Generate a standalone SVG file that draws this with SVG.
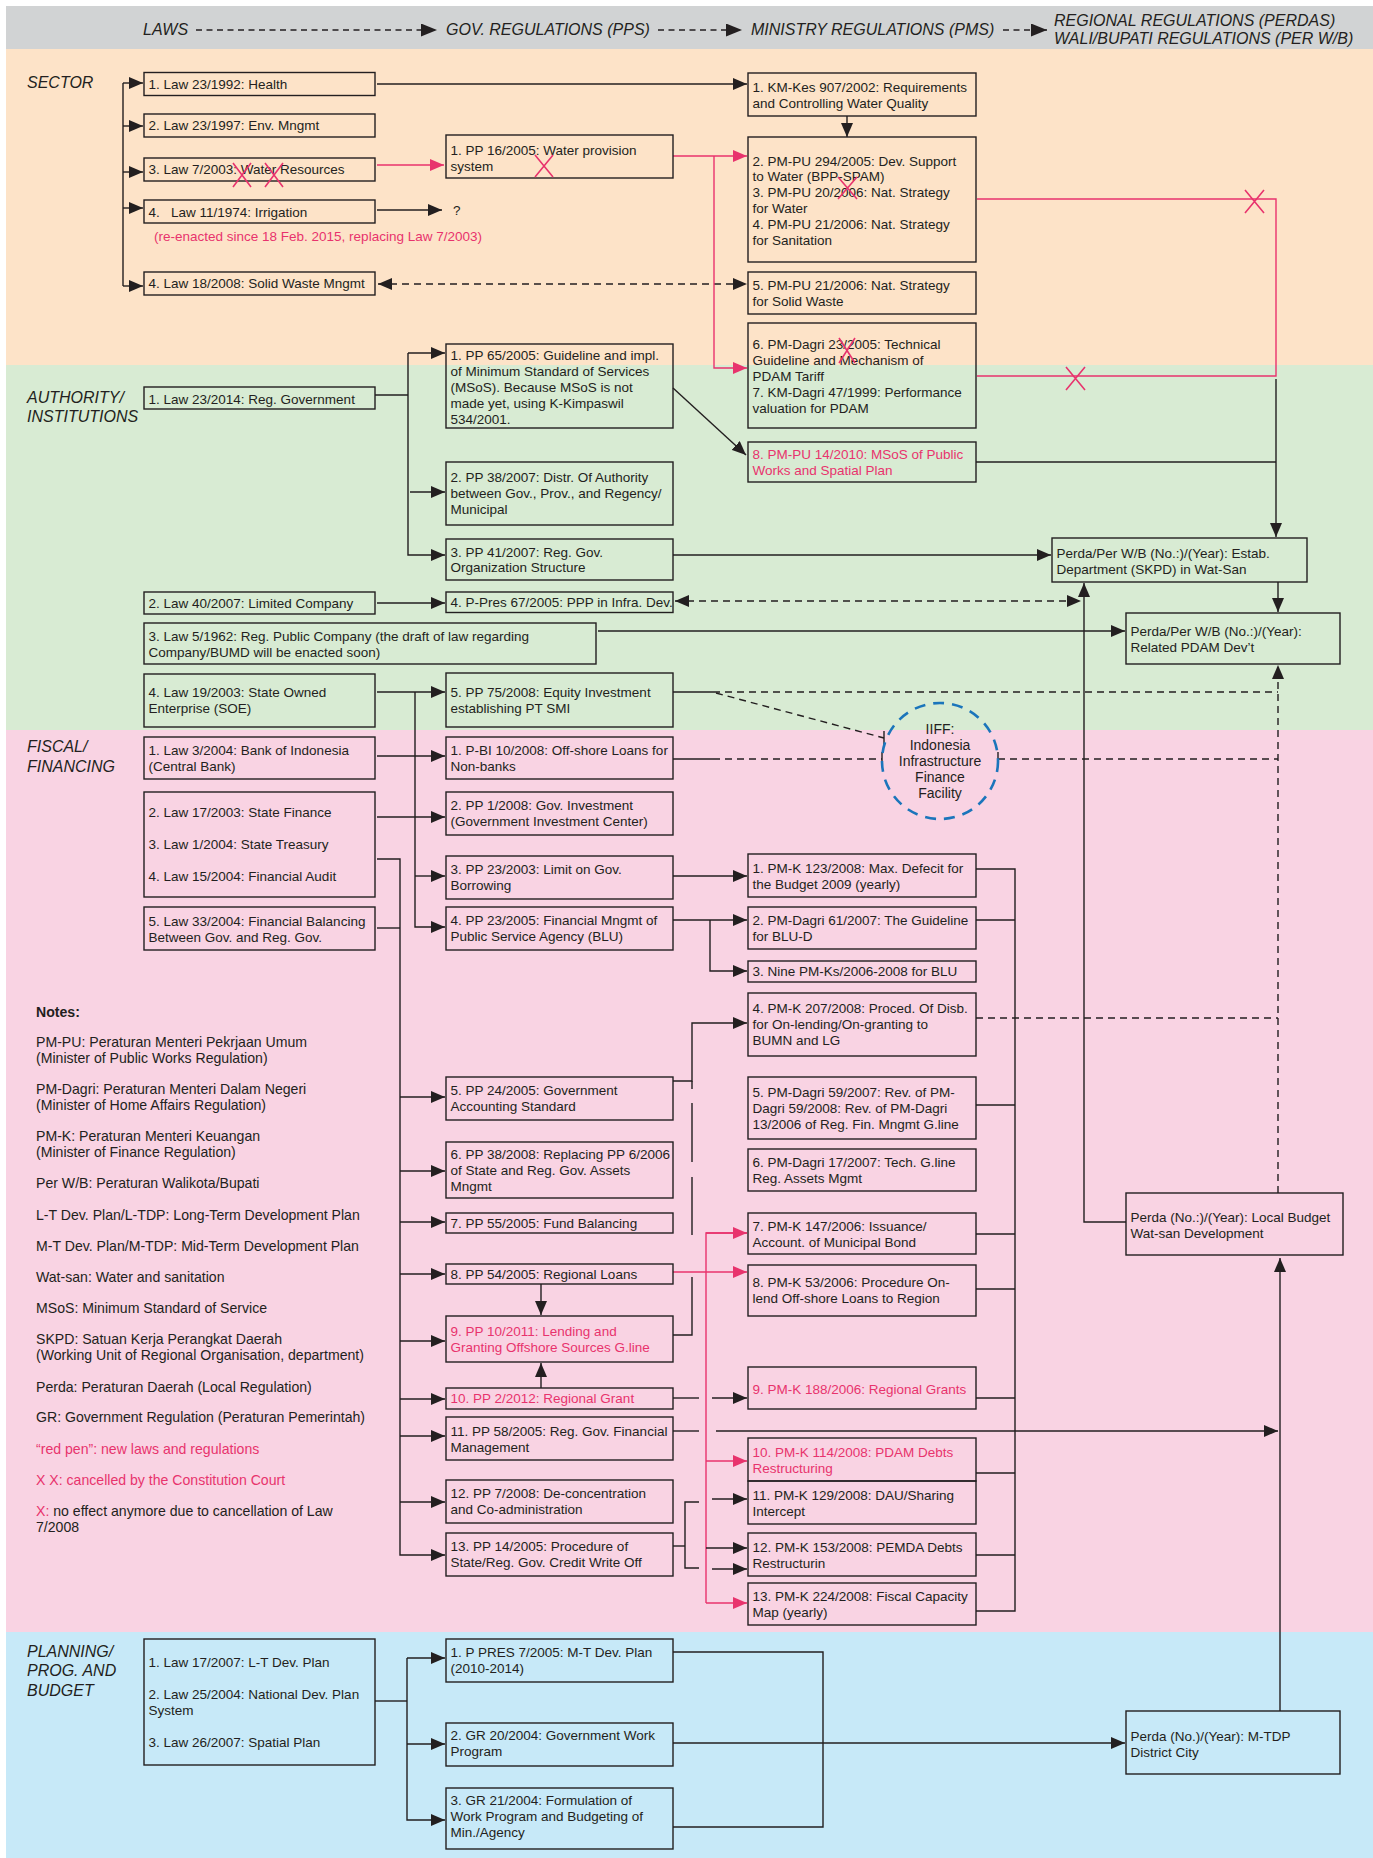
<svg xmlns="http://www.w3.org/2000/svg" width="1373" height="1858" viewBox="0 0 1373 1858">
<defs>
<style>
text{font-family:"Liberation Sans",Arial,sans-serif;font-size:13.5px;fill:#231f20}
.hd{font-size:16px;font-style:italic}
.sec{font-size:16px;font-style:italic}
.red{fill:#e8336d}
.bold{font-weight:bold}
.iiff{font-size:14px;text-anchor:middle}
#notes text{font-size:14.1px}
rect.n{fill:none;stroke:#231f20;stroke-width:1.4}
#connectors path{fill:none;stroke:#231f20;stroke-width:1.4}
#connectors path.rd{stroke:#e8336d}
#connectors path.dsh{stroke-dasharray:7 5}
#connectors path.hdash{stroke-dasharray:6 4.5}
#cancel-marks path{fill:none;stroke:#e8336d;stroke-width:1.6}
</style>
<marker id="ah" viewBox="0 0 14 12" markerWidth="14" markerHeight="12" refX="14" refY="6" orient="auto-start-reverse" markerUnits="userSpaceOnUse"><path d="M0,0L14,6L0,12z" fill="#231f20"/></marker>
<marker id="ahr" viewBox="0 0 14 12" markerWidth="14" markerHeight="12" refX="14" refY="6" orient="auto-start-reverse" markerUnits="userSpaceOnUse"><path d="M0,0L14,6L0,12z" fill="#e8336d"/></marker>
<marker id="ahh" viewBox="0 0 16 13" markerWidth="16" markerHeight="13" refX="16" refY="6.5" orient="auto" markerUnits="userSpaceOnUse"><path d="M0,0L16,6.5L0,13z" fill="#231f20"/></marker>
</defs>

<!-- background bands -->
<g id="bands">
<rect x="6" y="6" width="1367" height="43" fill="#d1d3d4"/>
<rect x="6" y="49" width="1367" height="316" fill="#fde3c8"/>
<rect x="6" y="365" width="1367" height="365" fill="#d8ebd3"/>
<rect x="6" y="730" width="1367" height="902" fill="#f9d3e3"/>
<rect x="6" y="1632" width="1367" height="226" fill="#c7e9f8"/>
</g>

<!-- column headings -->
<g id="header">
<text class="hd" x="143" y="35">LAWS</text>
<text class="hd" x="446" y="35">GOV. REGULATIONS (PPS)</text>
<text class="hd" x="751" y="35">MINISTRY REGULATIONS (PMS)</text>
<text class="hd" x="1054" y="26">REGIONAL REGULATIONS (PERDAS)</text>
<text class="hd" x="1054" y="44">WALI/BUPATI REGULATIONS (PER W/B)</text>
</g>

<!-- section labels -->
<g id="sections">
<text class="sec" x="27" y="88">SECTOR</text>
<text class="sec" x="27" y="403">AUTHORITY/</text>
<text class="sec" x="27" y="422">INSTITUTIONS</text>
<text class="sec" x="27" y="752">FISCAL/</text>
<text class="sec" x="27" y="772">FINANCING</text>
<text class="sec" x="27" y="1657">PLANNING/</text>
<text class="sec" x="27" y="1676">PROG. AND</text>
<text class="sec" x="27" y="1696">BUDGET</text>
</g>

<!-- connectors -->
<g id="connectors">
<!-- heading flow -->
<path class="hdash" d="M196,30H437" marker-end="url(#ahh)"/>
<path class="hdash" d="M658,30H742" marker-end="url(#ahh)"/>
<path class="hdash" d="M1003,30H1047" marker-end="url(#ahh)"/>

<!-- sector -->
<path d="M123,83V286"/>
<path d="M123,83H143" marker-end="url(#ah)"/>
<path d="M123,126H143" marker-end="url(#ah)"/>
<path d="M123,172H143" marker-end="url(#ah)"/>
<path d="M123,208H143" marker-end="url(#ah)"/>
<path d="M123,286H143" marker-end="url(#ah)"/>
<path d="M377,84H747" marker-end="url(#ah)"/>
<path class="rd" d="M377,165H444" marker-end="url(#ahr)"/>
<path d="M377,210H442" marker-end="url(#ah)"/>
<path class="dsh" d="M378,284H747" marker-start="url(#ah)" marker-end="url(#ah)"/>
<path d="M847,116V137" marker-end="url(#ah)"/>
<path class="rd" d="M673,156H747" marker-end="url(#ahr)"/>
<path class="rd" d="M714,156V368H747" marker-end="url(#ahr)"/>
<path class="rd" d="M977,199H1276V376H977"/>

<!-- authority -->
<path d="M375,395H408"/>
<path d="M408,353V555H445" marker-end="url(#ah)"/>
<path d="M408,353H445" marker-end="url(#ah)"/>
<path d="M410,492H445" marker-end="url(#ah)"/>
<path d="M673,388L746,455" marker-end="url(#ah)"/>
<path d="M976,462H1276"/>
<path d="M1276,379V537" marker-end="url(#ah)"/>
<path d="M673,555H1051" marker-end="url(#ah)"/>
<path d="M377,603H445" marker-end="url(#ah)"/>
<path class="dsh" d="M675,601H1081" marker-start="url(#ah)" marker-end="url(#ah)"/>
<path d="M1278,582V612" marker-end="url(#ah)"/>
<path d="M598,631H1125" marker-end="url(#ah)"/>
<path class="dsh" d="M1278,1193V665" marker-end="url(#ah)"/>
<path d="M1126,1222H1084V583" marker-end="url(#ah)"/>

<!-- equity / infrastructure finance -->
<path d="M377,692H445" marker-end="url(#ah)"/>
<path d="M415,692V927H445" marker-end="url(#ah)"/>
<path d="M377,756H445" marker-end="url(#ah)"/>
<path d="M415,876H445" marker-end="url(#ah)"/>
<path d="M673,692H713"/>
<path class="dsh" d="M713,692H1278"/>
<path class="dsh" d="M716,693L884,738"/>
<path d="M884,731V745"/>
<path d="M673,759H713"/>
<path class="dsh" d="M713,759H882"/>
<path d="M882,752V766"/>
<path class="dsh" d="M998,759H1278"/>
<path d="M998,752V766"/>

<!-- fiscal laws to government regulations -->
<path d="M377,817H445" marker-end="url(#ah)"/>
<path d="M377,859H400V1555H445" marker-end="url(#ah)"/>
<path d="M377,928H400"/>
<path d="M400,1097H445" marker-end="url(#ah)"/>
<path d="M400,1171H445" marker-end="url(#ah)"/>
<path d="M400,1222H445" marker-end="url(#ah)"/>
<path d="M400,1274H445" marker-end="url(#ah)"/>
<path d="M400,1341H445" marker-end="url(#ah)"/>
<path d="M400,1399H445" marker-end="url(#ah)"/>
<path d="M400,1436H445" marker-end="url(#ah)"/>
<path d="M400,1502H445" marker-end="url(#ah)"/>

<!-- fiscal regulations to ministry regulations -->
<path d="M673,876H747" marker-end="url(#ah)"/>
<path d="M673,920H747" marker-end="url(#ah)"/>
<path d="M710,920V971H747" marker-end="url(#ah)"/>
<path d="M976,869H1015V1611H976"/>
<path d="M976,920H1015M976,1105H1015M976,1234H1015M976,1289H1015M976,1398H1015M976,1473H1015M976,1555H1015"/>
<path class="dsh" d="M976,1018H1278"/>
<path d="M673,1081H692V1023H747" marker-end="url(#ah)"/>
<path d="M692,1081V1089M692,1103V1162M692,1177V1235M692,1277V1335H673"/>
<path class="rd" d="M673,1272H747" marker-end="url(#ahr)"/>
<path class="rd" d="M747,1233H706V1603"/>
<path class="rd" d="M706,1233H747" marker-end="url(#ahr)"/>
<path class="rd" d="M706,1461H747" marker-end="url(#ahr)"/>
<path class="rd" d="M706,1603H747" marker-end="url(#ahr)"/>
<path d="M541,1284V1315" marker-end="url(#ah)"/>
<path d="M541,1388V1363" marker-end="url(#ah)"/>
<path d="M673,1398H699"/>
<path d="M712,1398H747" marker-end="url(#ah)"/>
<path d="M673,1431H699"/>
<path d="M716,1431H1278" marker-end="url(#ah)"/>
<path d="M673,1546H685"/>
<path d="M699,1502H685V1568H699"/>
<path d="M712,1499H747" marker-end="url(#ah)"/>
<path d="M706,1548H747" marker-end="url(#ah)"/>
<path d="M712,1569H747" marker-end="url(#ah)"/>
<path d="M1280,1711V1258" marker-end="url(#ah)"/>

<!-- planning -->
<path d="M375,1701H407"/>
<path d="M407,1658V1820H445" marker-end="url(#ah)"/>
<path d="M407,1658H445" marker-end="url(#ah)"/>
<path d="M407,1744H445" marker-end="url(#ah)"/>
<path d="M673,1652H823V1827H673"/>
<path d="M673,1743H1125" marker-end="url(#ah)"/>
</g>

<!-- SECTOR nodes -->
<g id="law-health"><rect class="n" x="144" y="72.5" width="231" height="23"/><text x="148.5" y="88.5">1. Law 23/1992: Health</text></g>
<g id="law-env"><rect class="n" x="144" y="114" width="231" height="23"/><text x="148.5" y="130">2. Law 23/1997: Env. Mngmt</text></g>
<g id="law-water"><rect class="n" x="144" y="158" width="231" height="23"/><text x="148.5" y="174">3. Law 7/2003: Water Resources</text></g>
<g id="law-irrigation"><rect class="n" x="144" y="200" width="231" height="23"/><text x="148.5" y="216.5">4.<tspan x="171">Law 11/1974: Irrigation</tspan></text>
<text class="red" x="154" y="240.5">(re-enacted since 18 Feb. 2015, replacing Law 7/2003)</text></g>
<g id="irrigation-unknown"><text x="453" y="214.5">?</text></g>
<g id="law-waste"><rect class="n" x="144" y="272" width="231" height="23"/><text x="148.5" y="288">4. Law 18/2008: Solid Waste Mngmt</text></g>
<g id="pp-16-2005"><rect class="n" x="446" y="135" width="227" height="43"/><text x="450.5" y="154.5">1. PP 16/2005: Water provision<tspan x="450.5" y="170.5">system</tspan></text></g>
<g id="km-kes-907"><rect class="n" x="748" y="73" width="228" height="43"/><text x="752.5" y="92">1. KM-Kes 907/2002: Requirements<tspan x="752.5" y="108">and Controlling Water Quality</tspan></text></g>
<g id="pm-pu-water"><rect class="n" x="748" y="137" width="228" height="125"/><text x="752.5" y="165.5">2. PM-PU 294/2005: Dev. Support<tspan x="752.5" y="181">to Water (BPP-SPAM)</tspan><tspan x="752.5" y="197">3. PM-PU 20/2006: Nat. Strategy</tspan><tspan x="752.5" y="213">for Water</tspan><tspan x="752.5" y="229">4. PM-PU 21/2006: Nat. Strategy</tspan><tspan x="752.5" y="245">for Sanitation</tspan></text></g>
<g id="pm-pu-waste"><rect class="n" x="748" y="272" width="228" height="42"/><text x="752.5" y="290">5. PM-PU 21/2006: Nat. Strategy<tspan x="752.5" y="306">for Solid Waste</tspan></text></g>
<g id="pm-dagri-23"><rect class="n" x="748" y="323" width="228" height="105"/><text x="752.5" y="349">6. PM-Dagri 23/2005: Technical<tspan x="752.5" y="365">Guideline and Mechanism of</tspan><tspan x="752.5" y="381">PDAM Tariff</tspan><tspan x="752.5" y="397">7. KM-Dagri 47/1999: Performance</tspan><tspan x="752.5" y="413">valuation for PDAM</tspan></text></g>

<!-- AUTHORITY / INSTITUTIONS nodes -->
<g id="law-reg-gov"><rect class="n" x="144" y="387" width="231" height="22"/><text x="148.5" y="403.5">1. Law 23/2014: Reg. Government</text></g>
<g id="pp-65-2005"><rect class="n" x="446" y="344" width="227" height="84"/><text x="450.5" y="360">1. PP 65/2005: Guideline and impl.<tspan x="450.5" y="376">of Minimum Standard of Services</tspan><tspan x="450.5" y="392">(MSoS). Because MSoS is not</tspan><tspan x="450.5" y="408">made yet, using K-Kimpaswil</tspan><tspan x="450.5" y="424">534/2001.</tspan></text></g>
<g id="pp-38-2007"><rect class="n" x="446" y="462" width="227" height="63"/><text x="450.5" y="482">2. PP 38/2007: Distr. Of Authority<tspan x="450.5" y="498">between Gov., Prov., and Regency/</tspan><tspan x="450.5" y="514">Municipal</tspan></text></g>
<g id="pp-41-2007"><rect class="n" x="446" y="539" width="227" height="41"/><text x="450.5" y="556.5">3. PP 41/2007: Reg. Gov.<tspan x="450.5" y="572">Organization Structure</tspan></text></g>
<g id="pm-pu-14-2010"><rect class="n" x="748" y="442" width="228" height="40"/><text class="red" x="752.5" y="459">8. PM-PU 14/2010: MSoS of Public<tspan x="752.5" y="475">Works and Spatial Plan</tspan></text></g>
<g id="perda-skpd"><rect class="n" x="1052" y="538" width="255" height="44"/><text x="1056.5" y="557.5">Perda/Per W/B (No.:)/(Year): Estab.<tspan x="1056.5" y="573.5">Department (SKPD) in Wat-San</tspan></text></g>
<g id="law-ltd-company"><rect class="n" x="144" y="592" width="231" height="22"/><text x="148.5" y="607.5">2. Law 40/2007: Limited Company</text></g>
<g id="p-pres-67-2005"><rect class="n" x="446" y="592" width="227" height="20.5"/><text x="450.5" y="607">4. P-Pres 67/2005: PPP in Infra. Dev.</text></g>
<g id="law-public-company"><rect class="n" x="144" y="623" width="452" height="41"/><text x="148.5" y="641">3. Law 5/1962: Reg. Public Company (the draft of law regarding<tspan x="148.5" y="657">Company/BUMD will be enacted soon)</tspan></text></g>
<g id="perda-pdam"><rect class="n" x="1126" y="613" width="214" height="51"/><text x="1130.5" y="635.5">Perda/Per W/B (No.:)/(Year):<tspan x="1130.5" y="651.5">Related PDAM Dev’t</tspan></text></g>
<g id="law-soe"><rect class="n" x="144" y="674" width="231" height="53"/><text x="148.5" y="697">4. Law 19/2003: State Owned<tspan x="148.5" y="713">Enterprise (SOE)</tspan></text></g>
<g id="pp-75-2008"><rect class="n" x="446" y="673" width="227" height="54"/><text x="450.5" y="697">5. PP 75/2008: Equity Investment<tspan x="450.5" y="713">establishing PT SMI</tspan></text></g>
<g id="iiff"><circle cx="940" cy="761" r="58" fill="none" stroke="#1b75bb" stroke-width="2.6" stroke-dasharray="11 8"/><text class="iiff" x="940" y="733.5">IIFF:<tspan x="940" y="749.5">Indonesia</tspan><tspan x="940" y="765.5">Infrastructure</tspan><tspan x="940" y="781.5">Finance</tspan><tspan x="940" y="797.5">Facility</tspan></text></g>

<!-- FISCAL / FINANCING nodes -->
<g id="law-bank-indonesia"><rect class="n" x="144" y="737" width="231" height="42"/><text x="148.5" y="755">1. Law 3/2004: Bank of Indonesia<tspan x="148.5" y="771">(Central Bank)</tspan></text></g>
<g id="p-bi-10-2008"><rect class="n" x="446" y="737" width="227" height="42"/><text x="450.5" y="755">1. P-BI 10/2008: Off-shore Loans for<tspan x="450.5" y="771">Non-banks</tspan></text></g>
<g id="law-state-finance"><rect class="n" x="144" y="792" width="231" height="105"/><text x="148.5" y="817">2. Law 17/2003: State Finance<tspan x="148.5" y="849">3. Law 1/2004: State Treasury</tspan><tspan x="148.5" y="881">4. Law 15/2004: Financial Audit</tspan></text></g>
<g id="law-fin-balancing"><rect class="n" x="144" y="907" width="231" height="43"/><text x="148.5" y="926">5. Law 33/2004: Financial Balancing<tspan x="148.5" y="942">Between Gov. and Reg. Gov.</tspan></text></g>
<g id="pp-1-2008"><rect class="n" x="446" y="792" width="227" height="43"/><text x="450.5" y="809.5">2. PP 1/2008: Gov. Investment<tspan x="450.5" y="826">(Government Investment Center)</tspan></text></g>
<g id="pp-23-2003"><rect class="n" x="446" y="856" width="227" height="43"/><text x="450.5" y="874">3. PP 23/2003: Limit on Gov.<tspan x="450.5" y="890">Borrowing</tspan></text></g>
<g id="pp-23-2005"><rect class="n" x="446" y="907" width="227" height="43"/><text x="450.5" y="925">4. PP 23/2005: Financial Mngmt of<tspan x="450.5" y="940.5">Public Service Agency (BLU)</tspan></text></g>
<g id="pp-24-2005"><rect class="n" x="446" y="1077" width="227" height="43"/><text x="450.5" y="1095">5. PP 24/2005: Government<tspan x="450.5" y="1111">Accounting Standard</tspan></text></g>
<g id="pp-38-2008"><rect class="n" x="446" y="1142" width="227" height="56"/><text x="450.5" y="1159">6. PP 38/2008: Replacing PP 6/2006<tspan x="450.5" y="1175">of State and Reg. Gov. Assets</tspan><tspan x="450.5" y="1191">Mngmt</tspan></text></g>
<g id="pp-55-2005"><rect class="n" x="446" y="1213" width="227" height="20"/><text x="450.5" y="1228">7. PP 55/2005: Fund Balancing</text></g>
<g id="pp-54-2005"><rect class="n" x="446" y="1264" width="227" height="20"/><text x="450.5" y="1279">8. PP 54/2005: Regional Loans</text></g>
<g id="pp-10-2011"><rect class="n" x="446" y="1316" width="227" height="46"/><text class="red" x="450.5" y="1336">9. PP 10/2011: Lending and<tspan x="450.5" y="1352">Granting Offshore Sources G.line</tspan></text></g>
<g id="pp-2-2012"><rect class="n" x="446" y="1388" width="227" height="21"/><text class="red" x="450.5" y="1403">10. PP 2/2012: Regional Grant</text></g>
<g id="pp-58-2005"><rect class="n" x="446" y="1417" width="227" height="43"/><text x="450.5" y="1436">11. PP 58/2005: Reg. Gov. Financial<tspan x="450.5" y="1452">Management</tspan></text></g>
<g id="pp-7-2008"><rect class="n" x="446" y="1480" width="227" height="43"/><text x="450.5" y="1498">12. PP 7/2008: De-concentration<tspan x="450.5" y="1514">and Co-administration</tspan></text></g>
<g id="pp-14-2005"><rect class="n" x="446" y="1533" width="227" height="43"/><text x="450.5" y="1551">13. PP 14/2005: Procedure of<tspan x="450.5" y="1567">State/Reg. Gov. Credit Write Off</tspan></text></g>

<g id="pm-k-123-2008"><rect class="n" x="748" y="854" width="228" height="43"/><text x="752.5" y="873">1. PM-K 123/2008: Max. Defecit for<tspan x="752.5" y="889">the Budget 2009 (yearly)</tspan></text></g>
<g id="pm-dagri-61-2007"><rect class="n" x="748" y="907" width="228" height="42"/><text x="752.5" y="925">2. PM-Dagri 61/2007: The Guideline<tspan x="752.5" y="941">for BLU-D</tspan></text></g>
<g id="pm-k-blu"><rect class="n" x="748" y="961" width="228" height="21"/><text x="752.5" y="976">3. Nine PM-Ks/2006-2008 for BLU</text></g>
<g id="pm-k-207-2008"><rect class="n" x="748" y="993" width="228" height="63"/><text x="752.5" y="1013">4. PM-K 207/2008: Proced. Of Disb.<tspan x="752.5" y="1029">for On-lending/On-granting to</tspan><tspan x="752.5" y="1045">BUMN and LG</tspan></text></g>
<g id="pm-dagri-59-2007"><rect class="n" x="748" y="1077" width="228" height="62"/><text x="752.5" y="1097">5. PM-Dagri 59/2007: Rev. of PM-<tspan x="752.5" y="1113">Dagri 59/2008: Rev. of PM-Dagri</tspan><tspan x="752.5" y="1129">13/2006 of Reg. Fin. Mngmt G.line</tspan></text></g>
<g id="pm-dagri-17-2007"><rect class="n" x="748" y="1149" width="228" height="42"/><text x="752.5" y="1167">6. PM-Dagri 17/2007: Tech. G.line<tspan x="752.5" y="1183">Reg. Assets Mgmt</tspan></text></g>
<g id="pm-k-147-2006"><rect class="n" x="748" y="1213" width="228" height="41"/><text x="752.5" y="1231">7. PM-K 147/2006: Issuance/<tspan x="752.5" y="1247">Account. of Municipal Bond</tspan></text></g>
<g id="pm-k-53-2006"><rect class="n" x="748" y="1265" width="228" height="51"/><text x="752.5" y="1287">8. PM-K 53/2006: Procedure On-<tspan x="752.5" y="1303">lend Off-shore Loans to Region</tspan></text></g>
<g id="pm-k-188-2006"><rect class="n" x="748" y="1367" width="228" height="42"/><text class="red" x="752.5" y="1393.5">9. PM-K 188/2006: Regional Grants</text></g>
<g id="pm-k-114-2008"><rect class="n" x="748" y="1438" width="228" height="43"/><text class="red" x="752.5" y="1457">10. PM-K 114/2008: PDAM Debts<tspan x="752.5" y="1473">Restructuring</tspan></text></g>
<g id="pm-k-129-2008"><rect class="n" x="748" y="1481" width="228" height="43"/><text x="752.5" y="1500">11. PM-K 129/2008: DAU/Sharing<tspan x="752.5" y="1516">Intercept</tspan></text></g>
<g id="pm-k-153-2008"><rect class="n" x="748" y="1533" width="228" height="43"/><text x="752.5" y="1551.5">12. PM-K 153/2008: PEMDA Debts<tspan x="752.5" y="1567.5">Restructurin</tspan></text></g>
<g id="pm-k-224-2008"><rect class="n" x="748" y="1583" width="228" height="42"/><text x="752.5" y="1601">13. PM-K 224/2008: Fiscal Capacity<tspan x="752.5" y="1617">Map (yearly)</tspan></text></g>
<g id="perda-budget"><rect class="n" x="1126" y="1193" width="217" height="62"/><text x="1130.5" y="1221.5">Perda (No.:)/(Year): Local Budget<tspan x="1130.5" y="1237.5">Wat-san Development</tspan></text></g>

<!-- notes -->
<g id="notes">
<text class="bold" x="36" y="1016.5">Notes:</text>
<text x="36" y="1046.5">PM-PU: Peraturan Menteri Pekrjaan Umum<tspan x="36" y="1062.5">(Minister of Public Works Regulation)</tspan></text>
<text x="36" y="1093.5">PM-Dagri: Peraturan Menteri Dalam Negeri<tspan x="36" y="1109.5">(Minister of Home Affairs Regulation)</tspan></text>
<text x="36" y="1140.5">PM-K: Peraturan Menteri Keuangan<tspan x="36" y="1156.5">(Minister of Finance Regulation)</tspan></text>
<text x="36" y="1187.5">Per W/B: Peraturan Walikota/Bupati</text>
<text x="36" y="1220">L-T Dev. Plan/L-TDP: Long-Term Development Plan</text>
<text x="36" y="1250.5">M-T Dev. Plan/M-TDP: Mid-Term Development Plan</text>
<text x="36" y="1281.5">Wat-san: Water and sanitation</text>
<text x="36" y="1312.5">MSoS: Minimum Standard of Service</text>
<text x="36" y="1343.5">SKPD: Satuan Kerja Perangkat Daerah<tspan x="36" y="1359.5">(Working Unit of Regional Organisation, department)</tspan></text>
<text x="36" y="1391.5">Perda: Peraturan Daerah (Local Regulation)</text>
<text x="36" y="1421.5">GR: Government Regulation (Peraturan Pemerintah)</text>
<text class="red" x="36" y="1453.5">“red pen”: new laws and regulations</text>
<text class="red" x="36" y="1484.5">X X: cancelled by the Constitution Court</text>
<text x="36" y="1515.5"><tspan class="red">X:</tspan> no effect anymore due to cancellation of Law<tspan x="36" y="1531.5">7/2008</tspan></text>
</g>

<!-- PLANNING nodes -->
<g id="law-planning"><rect class="n" x="144" y="1639" width="231" height="126"/><text x="148.5" y="1666.5">1. Law 17/2007: L-T Dev. Plan<tspan x="148.5" y="1698.5">2. Law 25/2004: National Dev. Plan</tspan><tspan x="148.5" y="1714.5">System</tspan><tspan x="148.5" y="1746.5">3. Law 26/2007: Spatial Plan</tspan></text></g>
<g id="p-pres-7-2005"><rect class="n" x="446" y="1639" width="227" height="43"/><text x="450.5" y="1656.5">1. P PRES 7/2005: M-T Dev. Plan<tspan x="450.5" y="1672.5">(2010-2014)</tspan></text></g>
<g id="gr-20-2004"><rect class="n" x="446" y="1723" width="227" height="43"/><text x="450.5" y="1740">2. GR 20/2004: Government Work<tspan x="450.5" y="1756">Program</tspan></text></g>
<g id="gr-21-2004"><rect class="n" x="446" y="1788" width="227" height="61"/><text x="450.5" y="1804.5">3. GR 21/2004: Formulation of<tspan x="450.5" y="1820.5">Work Program and Budgeting of</tspan><tspan x="450.5" y="1836.5">Min./Agency</tspan></text></g>
<g id="perda-mtdp"><rect class="n" x="1126" y="1711" width="214" height="63"/><text x="1130.5" y="1740.5">Perda (No.)/(Year): M-TDP<tspan x="1130.5" y="1756.5">District City</tspan></text></g>

<!-- cancellation crosses -->
<g id="cancel-marks">
<path d="M233,163L251,187M251,163L233,187"/>
<path d="M265,163L283,187M283,163L265,187"/>
<path d="M535,155L553,177M553,155L535,177"/>
<path d="M838,177L857,199M857,177L838,199"/>
<path d="M1245,190L1264,213M1264,190L1245,213"/>
<path d="M839,338L855,363M855,338L839,363"/>
<path d="M1066,367L1085,390M1085,367L1066,390"/>
</g>
</svg>
